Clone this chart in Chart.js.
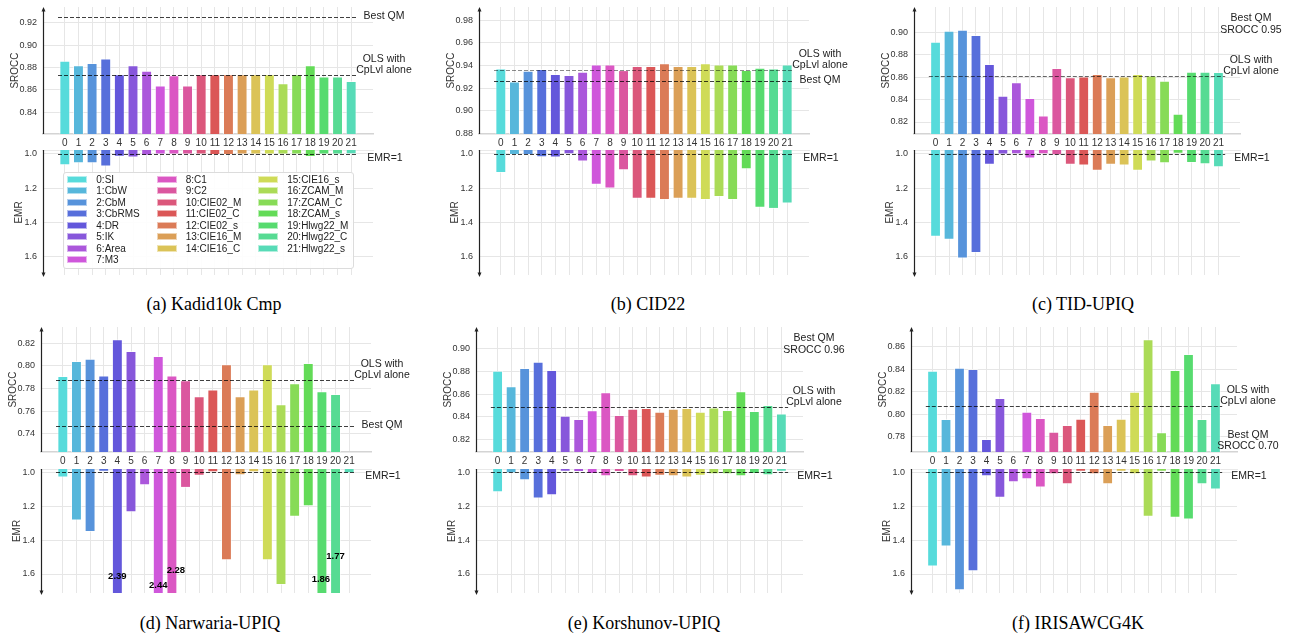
<!DOCTYPE html>
<html>
<head>
<meta charset="utf-8">
<script src="https://cdn.jsdelivr.net/npm/chart.js@4.4.1/dist/chart.umd.min.js"></script>
<style>
  html, body { margin: 0; padding: 0; background: #fff; overflow: hidden; }
  #fig { position: relative; width: 1292px; height: 637px; }
  canvas { position: absolute; }
  .caption { position: absolute; font: 18px "Liberation Serif", "Times New Roman", serif; line-height: 18px; color: #000; transform: translateX(-50%); white-space: nowrap; }
  .legend { position: absolute; display: flex; gap: 17px; padding: 1px 3px; box-sizing: border-box; background: rgba(255,255,255,0.92); border: 1px solid #dcdcdc; border-radius: 3px; font: 10px "Liberation Sans", Arial, sans-serif; color: #222; }
  .legend .item { display: flex; align-items: center; height: 11.5px; white-space: nowrap; }
  .legend .sw { width: 20px; height: 7px; margin-right: 9px; box-sizing: border-box; border: 1px solid rgba(255,255,255,0.55); }
</style>
</head>
<body>
<div id="fig"></div>
<script>
// methods on the x axis
const methods = ['SI', 'CbW', 'CbM', 'CbRMS', 'DR', 'IK', 'Area', 'M3', 'C1', 'C2',
  'CIE02_M', 'CIE02_C', 'CIE02_s', 'CIE16_M', 'CIE16_C', 'CIE16_s',
  'ZCAM_M', 'ZCAM_C', 'ZCAM_s', 'Hlwg22_M', 'Hlwg22_C', 'Hlwg22_s'];

// SROCC and EMR per dataset
const kadidSrocc = [0.886, 0.882, 0.884, 0.888, 0.874, 0.882, 0.877, 0.864, 0.873, 0.864, 0.874, 0.874, 0.874, 0.874, 0.874, 0.874, 0.866, 0.874, 0.882, 0.872, 0.872, 0.868];
const kadidEmr = [1.066, 1.055, 1.055, 1.074, 1.016, 1.021, 1.010, 1.004, 1.004, 1.004, 1.004, 1.006, 1.006, 1.004, 1.004, 1.004, 1.004, 1.004, 1.018, 1.004, 1.004, 1.002];

const cidSrocc = [0.9375, 0.926, 0.9355, 0.937, 0.9325, 0.9316, 0.9346, 0.941, 0.941, 0.936, 0.9396, 0.9396, 0.942, 0.9396, 0.9396, 0.942, 0.941, 0.941, 0.936, 0.938, 0.9375, 0.941];
const cidEmr = [1.111, 1.006, 1.006, 1.020, 1.021, 1.002, 1.045, 1.180, 1.203, 1.096, 1.262, 1.262, 1.270, 1.262, 1.262, 1.270, 1.252, 1.270, 1.090, 1.315, 1.322, 1.291];

const tidSrocc = [0.8917, 0.9015, 0.9024, 0.8976, 0.8717, 0.8435, 0.8554, 0.8414, 0.8257, 0.8682, 0.8599, 0.8607, 0.8628, 0.8599, 0.8607, 0.8628, 0.8616, 0.8569, 0.8274, 0.8649, 0.8649, 0.8646];
const tidEmr = [1.485, 1.502, 1.612, 1.580, 1.064, 1.004, 1.002, 1.027, 1.002, 1.008, 1.064, 1.068, 1.098, 1.064, 1.068, 1.098, 1.045, 1.055, 0.999, 1.053, 1.061, 1.078];

const narwariaSrocc = [0.791, 0.8044, 0.8064, 0.7914, 0.8235, 0.8132, null, 0.8088, 0.7914, 0.7872, 0.7731, 0.779, 0.8014, 0.7731, 0.779, 0.8014, 0.766, 0.7846, 0.8026, 0.7775, 0.7751, null];
const narwariaEmr = [1.031, 1.285, 1.352, 0.996, 2.39, 1.236, 1.077, 2.44, 2.28, 1.092, 1.020, 1.000, 1.519, 1.018, 1.000, 1.519, 1.665, 1.262, 1.200, 1.86, 1.77, 1.006];

const korshunovSrocc = [0.8806, 0.8668, 0.8829, 0.8885, 0.8812, 0.8409, 0.8379, 0.8456, 0.8615, 0.8415, 0.8471, 0.8476, 0.8444, 0.8471, 0.8476, 0.8444, 0.8482, 0.8459, 0.8624, 0.845, 0.8503, 0.8429];
const korshunovEmr = [1.118, 1.006, 1.047, 1.155, 1.136, 0.997, 0.998, 1.010, 1.024, 0.998, 1.024, 1.031, 1.020, 1.024, 1.031, 1.020, 1.012, 1.012, 1.024, 1.010, 1.018, 0.996];

const irisaSrocc = [0.8387, 0.796, 0.8414, 0.8402, 0.7782, 0.8145, null, 0.8024, 0.7968, 0.7847, 0.7906, 0.7962, 0.8201, 0.7906, 0.7962, 0.8201, 0.8665, 0.7841, 0.8393, 0.8535, 0.796, 0.8275];
const irisaEmr = [1.555, 1.437, 1.696, 1.584, 1.024, 1.150, 1.059, 1.041, 1.090, 1.012, 1.071, 0.996, 1.012, 1.071, 0.996, 1.012, 1.262, 0.996, 1.268, 1.279, 1.071, 1.102];

// reference lines (one per dataset, same order as panels)
const olsSrocc = [0.873, 0.9363, 0.861, 0.7875, 0.8482, 0.8075];
const bestQmSrocc = [0.925, 0.926, 0.95, 0.747, 0.96, 0.70];

// where the clipped Narwaria values are written: [dx, px above bottom]
const narwariaLabelLift = { 4: [0, 17], 7: [0, 8], 8: [4, 23], 19: [-1, 14], 20: [0, 37] };

const FONT = '"Liberation Sans", Arial, sans-serif';
Chart.defaults.font.family = FONT;

const colors = methods.map((_, i) => `hsl(${(180 + i * 360 / methods.length) % 360}, 65%, 60%)`);
const edge = 'rgba(255,255,255,0.55)';

const rows = [
  { top: [7, 134], bottom: [150, 275], baseline: 310.5 },
  { top: [327, 452], bottom: [469, 593], baseline: 629.5 }
];

const panels = [
  { caption: '(a) Kadid10k Cmp', srocc: kadidSrocc, emr: kadidEmr, axisX: 43, plotRight: 373, row: 0, sroccRange: [0.8206, 0.934], emrRange: [0.977, 1.708], capX: 214, legend: true },
  { caption: '(b) CID22', srocc: cidSrocc, emr: cidEmr, axisX: 479, plotRight: 809, row: 0, sroccRange: [0.8795, 0.9918], emrRange: [0.977, 1.709], capX: 648, olsColor: 'rgba(0,0,0,0.45)' },
  { caption: '(c) TID-UPIQ', srocc: tidSrocc, emr: tidEmr, axisX: 914, plotRight: 1240, row: 0, sroccRange: [0.8093, 0.9226], emrRange: [0.977, 1.709], capX: 1083, olsColor: 'rgba(0,0,0,0.6)' },
  { caption: '(d) Narwaria-UPIQ', srocc: narwariaSrocc, emr: narwariaEmr, axisX: 41, plotRight: 371, row: 1, sroccRange: [0.7238, 0.8344], emrRange: [0.9805, 1.712], capX: 210, lift: narwariaLabelLift },
  { caption: '(e) Korshunov-UPIQ', srocc: korshunovSrocc, emr: korshunovEmr, axisX: 476, plotRight: 803, row: 1, sroccRange: [0.8088, 0.9192], emrRange: [0.9805, 1.712], capX: 644 },
  { caption: '(f) IRISAWCG4K', srocc: irisaSrocc, emr: irisaEmr, axisX: 911, plotRight: 1237, row: 1, sroccRange: [0.7667, 0.8774], emrRange: [0.9805, 1.712], capX: 1078 }
];

// dashed reference lines and their labels on the right
const refPlugin = {
  id: 'refs',
  afterDatasetsDraw(chart, args, opts) {
    const { ctx, chartArea: a, scales: { x, y } } = chart;
    const x0 = x.getPixelForValue(-0.5), x1 = x.getPixelForValue(methods.length - 0.5);
    ctx.save();
    ctx.font = '10.5px ' + FONT;
    ctx.textAlign = 'center';
    ctx.textBaseline = 'middle';
    (opts.lines || []).forEach(l => {
      const lo = Math.min(y.min, y.max), hi = Math.max(y.min, y.max);
      const inside = l.value >= lo && l.value <= hi;
      const tx = a.right + 11 + (l.dx || 0);
      let ys, txt = l.text;
      if (inside) {
        const py = Math.round(y.getPixelForValue(l.value)) + 0.5;
        ctx.save();
        ctx.strokeStyle = l.color || 'rgba(0,0,0,0.75)';
        ctx.lineWidth = 1;
        ctx.setLineDash([4, 2]);
        ctx.beginPath(); ctx.moveTo(x0, py); ctx.lineTo(x1, py); ctx.stroke();
        ctx.restore();
        ys = txt.length === 2 ? [py - 16.5, py - 5] : [py + (l.dy || 0)];
      } else {
        txt = l.outText || txt;
        ys = l.value > hi ? [a.top + 11, a.top + 23] : [a.bottom - 17, a.bottom - 6];
      }
      ctx.fillStyle = '#222';
      txt.forEach((t, i) => ctx.fillText(t, tx, ys[i]));
    });
    ctx.restore();
  }
};

// black y axis with an arrow head
const arrowPlugin = {
  id: 'yArrow',
  afterDraw(chart, args, opts) {
    const { ctx, chartArea: a } = chart;
    const x = a.left + 0.5;
    const from = opts.down ? a.top : a.bottom;
    const to = opts.down ? a.bottom + 2 : a.top;
    const d = opts.down ? 1 : -1;
    ctx.save();
    ctx.strokeStyle = '#222'; ctx.fillStyle = '#222'; ctx.lineWidth = 1.2;
    ctx.beginPath(); ctx.moveTo(x, from); ctx.lineTo(x, to - d * 2); ctx.stroke();
    ctx.beginPath(); ctx.moveTo(x, to); ctx.lineTo(x - 2, to - d * 4.5); ctx.lineTo(x + 2, to - d * 4.5); ctx.closePath(); ctx.fill();
    ctx.restore();
  }
};

// values beyond the EMR axis written as text
const overflowPlugin = {
  id: 'overflow',
  afterDatasetsDraw(chart, args, opts) {
    if (!opts.lift) return;
    const { ctx, chartArea: a, scales: { x, y } } = chart;
    ctx.save();
    ctx.font = 'bold 9.5px ' + FONT;
    ctx.fillStyle = '#000';
    ctx.textAlign = 'center';
    ctx.textBaseline = 'middle';
    chart.data.datasets[0].data.forEach((d, i) => {
      if (d.y != null && d.y > Math.max(y.min, y.max)) {
        const l = opts.lift[i] || [0, 12];
        ctx.fillText(d.y.toFixed(2), x.getPixelForValue(i) + l[0], a.bottom - l[1]);
      }
    });
    ctx.restore();
  }
};

const fig = document.getElementById('fig');

function addCanvas(left, top, w, h) {
  const c = document.createElement('canvas');
  c.width = w; c.height = h;
  c.style.left = left + 'px'; c.style.top = top + 'px';
  c.style.width = w + 'px'; c.style.height = h + 'px';
  fig.appendChild(c);
  return c;
}

function barChart(canvas, values, cfg) {
  const [min, max] = cfg.range;
  return new Chart(canvas, {
    type: 'bar',
    data: {
      datasets: [{
        data: values.map((v, i) => ({ x: i, y: v })),
        backgroundColor: colors,
        borderColor: edge,
        borderWidth: 1,
        base: min,
        barPercentage: 0.8,
        categoryPercentage: 1,
        clip: 0
      }]
    },
    options: {
      responsive: false,
      animation: false,
      devicePixelRatio: 1,
      events: [],
      layout: { padding: { top: cfg.padTop, right: cfg.padRight, bottom: cfg.padBottom, left: 0 } },
      plugins: {
        legend: { display: false },
        tooltip: { enabled: false },
        refs: { lines: cfg.lines },
        yArrow: { down: cfg.down },
        overflow: { lift: cfg.lift }
      },
      scales: {
        x: {
          type: 'linear', min: -1.6, max: 22.6, offset: false,
          position: cfg.showX ? 'bottom' : 'top',
          grid: { color: '#e6e6e6', drawTicks: false, offset: false },
          border: { color: '#d4d4d4', width: 1.5 },
          ticks: { display: cfg.showX, autoSkip: false, maxRotation: 0, padding: 3, color: '#333', font: { size: 10 }, callback: v => String(v) },
          afterBuildTicks: s => { s.ticks = methods.map((_, i) => ({ value: i })); },
          afterFit: s => { s.height = cfg.showX ? 16 : 0; s.paddingLeft = 0; s.paddingRight = 0; }
        },
        y: {
          type: 'linear', min, max, reverse: cfg.down,
          grid: { color: '#e6e6e6', drawTicks: false },
          border: { display: false },
          ticks: { padding: 6, color: '#333', font: { size: 9 }, callback: v => v.toFixed(cfg.dec) },
          title: { display: true, text: cfg.title, color: '#333', font: { size: 10 }, padding: { top: cfg.titlePad, bottom: 0 } },
          afterBuildTicks: s => {
            // ticks on multiples of the step, none squeezed against the far end
            const t = [];
            for (let k = Math.ceil(min / cfg.step - 1e-9); k * cfg.step <= max - 0.2 * cfg.step; k++) t.push({ value: +(k * cfg.step).toFixed(4) });
            s.ticks = t;
          },
          afterFit: s => { s.width = 43; s.paddingTop = 0; s.paddingBottom = 0; }
        }
      }
    },
    plugins: [refPlugin, arrowPlugin, overflowPlugin]
  });
}

panels.forEach((p, k) => {
  const r = rows[p.row];
  const cw = 430;
  const left = p.axisX - 43;
  const padRight = cw - 43 - (p.plotRight - p.axisX);

  const topC = addCanvas(left, r.top[0] - 7, cw, r.top[1] - r.top[0] + 7 + 16);
  const best = bestQmSrocc[k];
  barChart(topC, p.srocc, {
    range: p.sroccRange, step: 0.02, dec: 2, title: 'SROCC', titlePad: 9, down: false, showX: true,
    padTop: 7, padRight, padBottom: 0,
    lines: [
      { value: olsSrocc[k], text: ['OLS with', 'CpLvl alone'], color: p.olsColor },
      { value: best, text: ['Best QM'], dy: -1, outText: ['Best QM', 'SROCC ' + best.toFixed(2)] }
    ]
  });

  const botC = addCanvas(left, r.bottom[0], cw, r.bottom[1] - r.bottom[0] + 4);
  barChart(botC, p.emr, {
    range: p.emrRange, step: 0.2, dec: 1, title: 'EMR', titlePad: 13, down: true, showX: false,
    padTop: 0, padRight, padBottom: 4, lift: p.lift,
    lines: [{ value: 1, text: ['EMR=1'], dy: 4, dx: 1 }]
  });

  const cap = document.createElement('div');
  cap.className = 'caption';
  cap.textContent = p.caption;
  cap.style.left = p.capX + 'px';
  cap.style.top = (r.baseline - 15.1) + 'px';
  fig.appendChild(cap);

  if (p.legend) {
    // matplotlib style: columns filled top to bottom, first columns get the extra item
    const ncol = 3, n = methods.length;
    const lg = document.createElement('div');
    lg.className = 'legend';
    lg.style.left = (p.axisX + 20.3) + 'px';
    lg.style.top = '171.7px';
    lg.style.width = '291px';
    lg.style.height = '97.6px';
    let idx = 0;
    for (let c = 0; c < ncol; c++) {
      const count = Math.floor(n / ncol) + (c < n % ncol ? 1 : 0);
      const col = document.createElement('div');
      for (let j = 0; j < count; j++, idx++) {
        const it = document.createElement('div');
        it.className = 'item';
        it.innerHTML = `<span class="sw" style="background:${colors[idx]}"></span><span>${idx}:${methods[idx]}</span>`;
        col.appendChild(it);
      }
      lg.appendChild(col);
    }
    fig.appendChild(lg);
  }
});
</script>
</body>
</html>
